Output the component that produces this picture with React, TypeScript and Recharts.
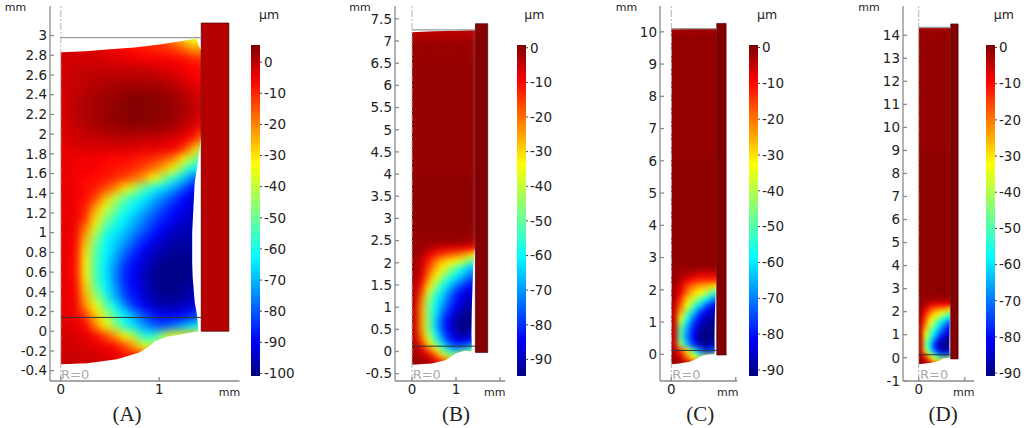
import { ScatterChart, Scatter, XAxis, YAxis, BarChart, Bar } from 'recharts'

type Pt = [number, number]

const JET: [number, number[]][] = [
  [0, [0, 0, 127]],
  [0.11, [0, 0, 255]],
  [0.36, [0, 255, 255]],
  [0.64, [255, 255, 0]],
  [0.89, [255, 0, 0]],
  [1, [127, 0, 0]],
]

// panel A
const aCols = [-0.1, 0.1, 0.2, 0.3, 0.4, 0.5, 0.6, 0.7, 0.8, 0.9, 1, 1.1, 1.2, 1.3, 1.4, 1.5]
const aRows = [3, 2.9, 2.8, 2.7, 2.6, 2.5, 2.4, 2.3, 2.2, 2.1, 2, 1.9, 1.8, 1.7, 1.6, 1.5, 1.4, 1.3, 1.2, 1.1, 1, 0.9, 0.8, 0.7, 0.6, 0.5, 0.4, 0.3, 0.2, 0.1, 0, -0.1, -0.2, -0.3, -0.45]
const aField = [
  [-4, -4, -5, -6, -7, -8, -9, -10, -11, -12, -14, -19, -27, -34, -34],
  [-2, -2, -3, -3, -4, -5, -6, -7, -8, -9, -10, -12, -15, -21, -20],
  [-2, -2, -2, -2, -3, -3, -4, -4, -5, -5, -5, -6, -7, -9, -10],
  [-2, -1, -1, -1, -1, -1, -1, -1, -1, -2, -3, -4, -5, -6, -7],
  [-2, -1, 0, 0, 1, 1, 1, 1, 1, 1, 0, -1, -3, -5, -6],
  [-2, -1, 0, 1, 2, 2, 3, 3, 3, 3, 2, 1, 0, -2, -4],
  [-2, 0, 1, 2, 3, 3, 4, 5, 5, 4, 4, 3, 1, -1, -3],
  [-2, 0, 1, 2, 3, 4, 5, 5, 5, 5, 4, 3, 2, 0, -2],
  [-2, 0, 1, 2, 3, 4, 4, 5, 5, 4, 4, 3, 1, -1, -4],
  [-3, -1, 0, 1, 2, 2, 3, 3, 3, 3, 2, 1, -1, -4, -8],
  [-3, -2, -1, -1, -1, 0, 0, 0, -1, -1, -2, -3, -5, -9, -20],
  [-4, -3, -3, -3, -3, -3, -3, -3, -4, -4, -5, -6, -11, -26, -40],
  [-4, -5, -5, -5, -6, -7, -7, -8, -9, -11, -14, -19, -32, -45, -52],
  [-4, -5, -5, -6, -7, -8, -9, -11, -14, -18, -25, -34, -50, -62, -66],
  [-4, -5, -6, -7, -8, -10, -13, -17, -23, -33, -46, -58, -68, -78, -80],
  [-4, -5, -7, -9, -13, -20, -30, -40, -52, -60, -66, -72, -80, -88, -90],
  [-4, -5, -7, -13, -25, -39, -50, -58, -64, -70, -76, -82, -89, -92, -93],
  [-4, -5, -9, -22, -36, -48, -58, -64, -70, -76, -82, -87, -91, -94, -94],
  [-4, -5, -11, -29, -44, -56, -63, -69, -75, -81, -86, -90, -93, -95, -95],
  [-4, -5, -18, -36, -53, -61, -67, -73, -79, -85, -90, -93, -95, -96, -96],
  [-4, -6, -24, -44, -60, -66, -71, -78, -84, -90, -93, -96, -97, -97, -97],
  [-4, -6, -28, -50, -62, -68, -75, -83, -89, -93, -96, -98, -98, -98, -98],
  [-4, -7, -31, -52, -63, -71, -80, -87, -92, -96, -98, -99, -99, -99, -99],
  [-4, -7, -32, -53, -64, -74, -84, -90, -94, -98, -100, -100, -100, -99, -99],
  [-4, -7, -31, -53, -64, -75, -85, -90, -95, -99, -100, -100, -100, -99, -98],
  [-4, -6, -28, -49, -62, -73, -84, -90, -94, -98, -100, -100, -99, -97, -96],
  [-4, -6, -25, -43, -57, -70, -81, -88, -93, -97, -99, -99, -98, -96, -95],
  [-4, -5, -20, -33, -49, -62, -74, -84, -90, -94, -96, -96, -94, -92, -90],
  [-4, -5, -11, -26, -39, -53, -63, -72, -81, -87, -90, -90, -88, -84, -78],
  [-3, -4, -6, -19, -31, -44, -58, -66, -73, -79, -80, -76, -70, -64, -58],
  [-2, -3, -4, -6, -13, -22, -32, -43, -60, -58, -42, -34, -30, -28, -28],
  [-2, -2, -3, -4, -5, -7, -14, -24, -36, -40, -40, -40, -40, -40, -40],
  [-1, -1, -2, -2, -3, -4, -7, -9, -15, -18, -18, -18, -18, -18, -18],
  [-1, -1, -2, -2, -3, -3, -4, -5, -6, -6, -6, -6, -6, -6, -6],
]
const aOutline: Pt[] = [[0, 2.83], [0.25, 2.84], [0.5, 2.86], [0.75, 2.88], [1, 2.91], [1.2, 2.94], [1.38, 2.97], [1.4, 2.9], [1.427, 2.85], [1.427, 2], [1.41, 1.84], [1.36, 1.5], [1.335, 1], [1.335, 0.7], [1.34, 0.55], [1.36, 0.3], [1.386, 0.15], [1.397, 0], [1.2, -0.035], [1.08, -0.055], [0.96, -0.1], [0.895, -0.155], [0.8, -0.215], [0.57, -0.284], [0.27, -0.325], [0, -0.335]]
const aRing: Pt[] = [[1.427, 0], [1.708, 0], [1.708, 3.127], [1.427, 3.127], [1.427, 0]]
const aTopLine: Pt[] = [[0, 2.98], [1.427, 2.98]]
const aLowLine: Pt[] = [[0, 0.14], [1.427, 0.14]]
const aYTicks = [-0.4, -0.2, 0, 0.2, 0.4, 0.6, 0.8, 1, 1.2, 1.4, 1.6, 1.8, 2, 2.2, 2.4, 2.6, 2.8, 3]
const aXTicks = [0, 1]
const aBarTicks = [0, -10, -20, -30, -40, -50, -60, -70, -80, -90, -100]

// panel B
const bCols = [-0.15, 0.15, 0.3, 0.45, 0.6, 0.75, 0.9, 1.05, 1.2, 1.35, 1.5]
const bRows = [7.35, 7.05, 6.6, 4, 2.7, 2.55, 2.4, 2.25, 2.1, 1.95, 1.8, 1.65, 1.5, 1.35, 1.2, 1.05, 0.9, 0.75, 0.6, 0.45, 0.3, 0.15, 0, -0.15, -0.3, -0.45]
const bField = [
  [-4, -4, -4, -4, -4, -4, -4, -4, -4, -4],
  [-1.5, -1.5, -1.5, -1.5, -1.5, -1.5, -1.5, -1.5, -1.5, -1.5],
  [-1, -1, -1, -1, -1, -1, -1, -1, -1, -1],
  [-0.5, -0.5, -0.5, -0.5, -0.5, -0.5, -0.5, -0.5, -0.5, -0.5],
  [-1, -1, -1, -1, -1, -1, -1, -1, -1, -1],
  [-1, -1, -1, -1, -1, -1, -1, -1, -2, -3],
  [-1, -2, -3, -5, -6, -7, -8, -8, -9, -10],
  [-1, -3, -8, -12, -15, -18, -20, -23, -28, -33],
  [-2, -5, -12, -20, -27, -31, -34, -37, -47, -52],
  [-2, -6, -15, -25, -32, -40, -49, -57, -65, -68],
  [-2, -7, -19, -31, -40, -50, -58, -64, -70, -74],
  [-3, -9, -25, -37, -50, -59, -66, -72, -78, -82],
  [-3, -13, -32, -46, -58, -66, -74, -80, -85, -87],
  [-4, -18, -40, -54, -63, -71, -80, -85, -88, -89],
  [-4, -22, -44, -58, -66, -75, -82, -87, -90, -90],
  [-5, -24, -46, -60, -69, -78, -85, -89, -92, -92],
  [-5, -25, -46, -62, -73, -82, -88, -92, -93, -93],
  [-5, -25, -45, -64, -76, -85, -91, -94, -94, -93],
  [-5, -25, -45, -63, -76, -85, -91, -94, -94, -92],
  [-4, -22, -41, -58, -72, -83, -89, -92, -91, -87],
  [-4, -17, -34, -52, -65, -78, -84, -86, -84, -78],
  [-3, -7, -22, -34, -52, -64, -72, -72, -66, -55],
  [-2, -4, -8, -18, -32, -46, -50, -40, -35, -33],
  [-1, -2, -4, -6, -13, -25, -30, -30, -30, -30],
  [-1, -1, -2, -4, -8, -12, -12, -12, -12, -12],
]
const bOutline: Pt[] = [[0, 7.2], [0.5, 7.22], [1, 7.23], [1.44, 7.25], [1.44, 2.32], [1.42, 2.27], [1.39, 1.9], [1.36, 1], [1.35, 0.4], [1.36, 0.1], [1.35, 0], [1.2, 0.015], [1, -0.04], [0.91, -0.1], [0.76, -0.2], [0.45, -0.27], [0, -0.3]]
const bRing: Pt[] = [[1.44, -0.02], [1.72, -0.02], [1.72, 7.39], [1.44, 7.39], [1.44, -0.02]]
const bTopLine: Pt[] = [[0, 7.25], [1.44, 7.25]]
const bLowLine: Pt[] = [[0, 0.12], [1.44, 0.12]]
const bYTicks = [-0.5, 0, 0.5, 1, 1.5, 2, 2.5, 3, 3.5, 4, 4.5, 5, 5.5, 6, 6.5, 7, 7.5]
const bXTicks = [0, 1, 2]
const bBarTicks = [0, -10, -20, -30, -40, -50, -60, -70, -80, -90]

// panel C
const cCols = [-0.2, 0.2, 0.4, 0.6, 0.8, 1, 1.2, 1.4, 1.6]
const cRows = [10.2, 9.9, 6, 2.8, 2.6, 2.4, 2.2, 2, 1.8, 1.6, 1.4, 1.2, 1, 0.8, 0.6, 0.4, 0.2, 0, -0.2, -0.4]
const cField = [
  [-2, -2, -2, -2, -2, -2, -2, -2],
  [-1, -1, -1, -1, -1, -1, -1, -1],
  [-0.5, -0.5, -0.5, -0.5, -0.5, -0.5, -0.5, -0.5],
  [-1, -1, -1, -1, -1, -1, -1, -1],
  [-1, -2, -3, -4, -6, -6, -6, -6],
  [-1, -4, -8, -11, -13, -13, -13, -14],
  [-2, -7, -15, -21, -24, -26, -29, -34],
  [-2, -9, -20, -28, -33, -40, -50, -58],
  [-3, -14, -28, -38, -48, -58, -68, -72],
  [-4, -19, -34, -50, -62, -74, -82, -84],
  [-5, -25, -45, -62, -76, -83, -87, -88],
  [-5, -35, -56, -72, -82, -87, -89, -89],
  [-5, -44, -64, -78, -87, -90, -90, -90],
  [-5, -50, -68, -81, -89, -91, -91, -91],
  [-5, -50, -69, -82, -90, -92, -91, -90],
  [-5, -42, -64, -78, -87, -90, -88, -84],
  [-3, -14, -30, -52, -70, -78, -74, -64],
  [-2, -6, -20, -33, -46, -33, -33, -33],
  [-1, -2, -6, -10, -16, -20, -20, -20],
]
const cOutline: Pt[] = [[0, 10.08], [1.41, 10.1], [1.41, 2.4], [1.38, 2], [1.35, 1.2], [1.34, 0.5], [1.35, 0.1], [1.34, 0], [1.1, -0.01], [0.93, -0.05], [0.82, -0.12], [0.57, -0.23], [0.2, -0.29], [0, -0.31]]
const cRing: Pt[] = [[1.41, -0.02], [1.7, -0.02], [1.7, 10.26], [1.41, 10.26], [1.41, -0.02]]
const cTopLine: Pt[] = [[0, 10.1], [1.41, 10.1]]
const cLowLine: Pt[] = [[0, 0.12], [1.41, 0.12]]
const cYTicks = [0, 1, 2, 3, 4, 5, 6, 7, 8, 9, 10]
const cXTicks = [0, 2]
const cBarTicks = [0, -10, -20, -30, -40, -50, -60, -70, -80, -90]

// panel D
const dCols = [-0.2, 0.2, 0.4, 0.6, 0.8, 1, 1.2, 1.4, 1.6]
const dRows = [14.4, 14, 9, 2.8, 2.6, 2.4, 2.2, 2, 1.8, 1.6, 1.4, 1.2, 1, 0.8, 0.6, 0.4, 0.2, 0, -0.2, -0.4]
const dField = [
  [-1.5, -1.5, -1.5, -1.5, -1.5, -1.5, -1.5, -1.5],
  [-1, -1, -1, -1, -1, -1, -1, -1],
  [-0.5, -0.5, -0.5, -0.5, -0.5, -0.5, -0.5, -0.5],
  [-1, -1, -1, -1, -1, -1, -1, -1],
  [-1, -1, -1, -2, -2, -2, -2, -2],
  [-1, -3, -6, -8, -9, -9, -9, -10],
  [-2, -7, -14, -19, -22, -24, -27, -29],
  [-2, -11, -22, -28, -33, -38, -45, -50],
  [-3, -15, -28, -35, -45, -53, -60, -62],
  [-4, -18, -33, -45, -55, -64, -72, -74],
  [-5, -24, -40, -50, -62, -72, -78, -79],
  [-5, -30, -46, -58, -68, -77, -83, -84],
  [-5, -35, -50, -64, -76, -83, -87, -87],
  [-5, -40, -56, -72, -84, -88, -90, -89],
  [-5, -42, -60, -78, -85, -90, -90, -88],
  [-5, -36, -55, -72, -82, -87, -86, -80],
  [-3, -16, -36, -52, -66, -72, -70, -58],
  [-2, -5, -20, -32, -40, -33, -33, -33],
  [-1, -2, -6, -10, -15, -18, -18, -18],
]
const dOutline: Pt[] = [[0, 14.34], [1.39, 14.34], [1.39, 2.35], [1.36, 2], [1.34, 1.2], [1.33, 0.5], [1.35, 0], [1.06, -0.03], [0.91, -0.13], [0.55, -0.22], [0, -0.28]]
const dRing: Pt[] = [[1.39, -0.05], [1.71, -0.05], [1.71, 14.49], [1.39, 14.49], [1.39, -0.05]]
const dTopLine: Pt[] = [[0, 14.34], [1.39, 14.34]]
const dLowLine: Pt[] = [[0, 0.13], [1.39, 0.13]]
const dYTicks = [-1, 0, 1, 2, 3, 4, 5, 6, 7, 8, 9, 10, 11, 12, 13, 14]
const dXTicks = [0, 2]
const dBarTicks = [0, -10, -20, -30, -40, -50, -60, -70, -80, -90]

const FONT = '"DejaVu Sans", sans-serif'
const FRAME = '#8a8a8a'

function colorOf(v: number, min: number, max: number) {
  const t = Math.min(1, Math.max(0, (v - min) / (max - min)))
  for (let i = 1; i < JET.length; i++) {
    if (t <= JET[i][0]) {
      const [t0, c0] = JET[i - 1]
      const [t1, c1] = JET[i]
      const f = (t - t0) / (t1 - t0)
      return `rgb(${c0.map((c, k) => Math.round(c + (c1[k] - c) * f)).join(',')})`
    }
  }
  return 'rgb(127,0,0)'
}

function toPoints(pts: Pt[]) {
  return pts.map(([x, y]) => ({ x, y }))
}

function buildCells(cols: number[], rows: number[], field: number[][]) {
  const cells: { x: number; y: number; w: number; h: number; v: number }[] = []
  field.forEach((row, r) => {
    row.forEach((v, c) => {
      cells.push({
        x: (cols[c] + cols[c + 1]) / 2,
        y: (rows[r] + rows[r + 1]) / 2,
        w: cols[c + 1] - cols[c],
        h: rows[r] - rows[r + 1],
        v,
      })
    })
  })
  return cells
}

// outside of the body is painted white, the outline winds against the outer box
function maskPoints(xd: number[], yd: number[], outline: Pt[]) {
  const start = outline[0]
  const pts: Pt[] = [
    [xd[0], start[1]], [xd[0], yd[0]], [xd[1], yd[0]], [xd[1], yd[1]], [xd[0], yd[1]], [xd[0], start[1]],
    ...outline, start,
  ]
  return toPoints(pts)
}

interface PanelProps {
  id: string
  frameLeft: number
  frameRight: number
  xDomain: number[]
  yDomain: number[]
  cols: number[]
  rows: number[]
  field: number[][]
  outline: Pt[]
  ring: Pt[]
  ringValue: number
  topLine: Pt[]
  lowLine: Pt[]
  xTicks: number[]
  yTicks: number[]
  blankX?: number
  vMin: number
  vMax: number
  blur: number
}

const TOP = 6
const BOTTOM = 381
const AXIS_W = 44
const noShape = () => null

function Panel(p: PanelProps) {
  const plotW = p.frameRight - p.frameLeft
  const plotH = BOTTOM - TOP
  const sx = plotW / (p.xDomain[1] - p.xDomain[0])
  const sy = plotH / (p.yDomain[1] - p.yDomain[0])
  const cells = buildCells(p.cols, p.rows, p.field)
  const heatShape = (s: any) => {
    const w = s.payload.w * sx + 0.6
    const h = s.payload.h * sy + 0.6
    return <rect x={s.cx - w / 2} y={s.cy - h / 2} width={w} height={h} fill={colorOf(s.payload.v, p.vMin, p.vMax)} />
  }
  const dash = [{ x: 0, y: p.yDomain[0] }, { x: 0, y: p.yDomain[1] }]
  const width = AXIS_W + plotW + 2
  const layer = { position: 'absolute', left: p.frameLeft - AXIS_W, top: 0 } as const
  return (
    <>
      <style>{`.heat-${p.id}{filter:blur(${p.blur}px)}`}</style>
      <div style={layer}>
        <ScatterChart width={width} height={428} margin={{ top: TOP, right: 2, bottom: 428 - BOTTOM, left: AXIS_W }}>
          <XAxis type="number" dataKey="x" domain={p.xDomain} allowDataOverflow hide />
          <YAxis type="number" dataKey="y" domain={p.yDomain} allowDataOverflow hide />
          <Scatter className={`heat-${p.id}`} data={cells} shape={heatShape} isAnimationActive={false} />
          <Scatter
            data={maskPoints(p.xDomain, p.yDomain, p.outline)}
            shape={noShape}
            line={{ fill: '#fff', stroke: 'none' }}
            isAnimationActive={false}
          />
          <Scatter
            data={toPoints(p.ring)}
            shape={noShape}
            line={{ fill: colorOf(p.ringValue, p.vMin, p.vMax), stroke: '#4a0000', strokeWidth: 0.7 }}
            isAnimationActive={false}
          />
          <Scatter data={dash} shape={noShape} line={{ stroke: '#b5b5b5', strokeWidth: 1, strokeDasharray: '7 2 2 2' }} isAnimationActive={false} />
          <Scatter data={toPoints(p.topLine)} shape={noShape} line={{ stroke: '#9a9a9a', strokeWidth: 1.2 }} isAnimationActive={false} />
          <Scatter data={toPoints(p.lowLine)} shape={noShape} line={{ stroke: '#333', strokeWidth: 1 }} isAnimationActive={false} />
        </ScatterChart>
      </div>
      <div style={layer}>
        <ScatterChart width={width} height={428} margin={{ top: TOP, right: 2, bottom: 428 - BOTTOM - 30, left: 0 }}>
          <XAxis
            type="number"
            dataKey="x"
            domain={p.xDomain}
            ticks={p.xTicks}
            interval={0}
            allowDataOverflow
            height={30}
            tickSize={-4}
            tickMargin={7}
            stroke={FRAME}
            strokeWidth={1.3}
            tick={{ fill: '#222', fontSize: 13.5, fontFamily: FONT }}
            tickFormatter={(v: number) => (v === p.blankX ? '' : String(v))}
          />
          <XAxis
            xAxisId="top"
            orientation="top"
            type="number"
            dataKey="x"
            domain={p.xDomain}
            ticks={p.xTicks}
            interval={0}
            allowDataOverflow
            height={0}
            tickSize={-4}
            stroke={FRAME}
            strokeWidth={1.3}
            tickFormatter={() => ''}
          />
          <YAxis
            type="number"
            dataKey="y"
            domain={p.yDomain}
            ticks={p.yTicks}
            interval={0}
            allowDataOverflow
            width={AXIS_W}
            tickSize={-4}
            tickMargin={7}
            stroke={FRAME}
            strokeWidth={1.3}
            tick={{ fill: '#222', fontSize: 13.5, fontFamily: FONT }}
            tickFormatter={(v: number) => String(v)}
          />
          <YAxis
            yAxisId="right"
            orientation="right"
            type="number"
            dataKey="y"
            domain={p.yDomain}
            ticks={p.yTicks}
            interval={0}
            allowDataOverflow
            width={0}
            tickSize={-4}
            stroke={FRAME}
            strokeWidth={1.3}
            tickFormatter={() => ''}
          />
          <Scatter xAxisId="top" yAxisId="right" data={toPoints(p.topLine)} shape={noShape} isAnimationActive={false} />
        </ScatterChart>
      </div>
    </>
  )
}

function ColorBar({ id, left, min, max, ticks }: { id: string; left: number; min: number; max: number; ticks: number[] }) {
  const data = [{ name: id, span: [min, max] }]
  return (
    <div style={{ position: 'absolute', left, top: 0 }}>
      <BarChart width={48} height={428} data={data} margin={{ top: 45, right: 0, bottom: 52, left: 0 }} barCategoryGap={0}>
        <defs>
          <linearGradient id={`jet-${id}`} x1="0" y1="0" x2="0" y2="1">
            {[...JET].reverse().map(([t, c]) => (
              <stop key={t} offset={1 - t} stopColor={`rgb(${c.join(',')})`} />
            ))}
          </linearGradient>
        </defs>
        <XAxis dataKey="name" hide />
        <YAxis
          orientation="right"
          type="number"
          domain={[min, max]}
          ticks={ticks}
          interval={0}
          allowDataOverflow
          width={39}
          axisLine={false}
          tickSize={2}
          tickMargin={2}
          stroke="#444"
          tick={{ fill: '#222', fontSize: 13.5, fontFamily: FONT }}
        />
        <Bar dataKey="span" fill={`url(#jet-${id})`} isAnimationActive={false} />
      </BarChart>
    </div>
  )
}

function Label({ x, cy, size, color, family, center, children }: any) {
  return (
    <div
      style={{
        position: 'absolute',
        left: x,
        top: cy - 15,
        height: 30,
        lineHeight: '30px',
        fontSize: size,
        color: color ?? '#222',
        fontFamily: family ?? FONT,
        whiteSpace: 'nowrap',
        transform: center ? 'translateX(-50%)' : undefined,
      }}
    >
      {children}
    </div>
  )
}

export default function App() {
  return (
    <div style={{ position: 'absolute', left: 0, top: 0, width: 1024, height: 428, overflow: 'hidden', background: '#fff' }}>
      <Panel id="a" frameLeft={49.5} frameRight={239} xDomain={[-0.11, 1.816]} yDomain={[-0.505, 3.3]} cols={aCols} rows={aRows} field={aField} outline={aOutline} ring={aRing} ringValue={0.5} topLine={aTopLine} lowLine={aLowLine} xTicks={aXTicks} yTicks={aYTicks} vMin={-100.8} vMax={5.5} blur={4} />
      <Panel id="b" frameLeft={394.7} frameRight={505} xDomain={[-0.386, 2.12]} yDomain={[-0.665, 7.79]} cols={bCols} rows={bRows} field={bField} outline={bOutline} ring={bRing} ringValue={0.3} topLine={bTopLine} lowLine={bLowLine} xTicks={bXTicks} yTicks={bYTicks} blankX={2} vMin={-94.8} vMax={0.8} blur={3} />
      <Panel id="c" frameLeft={660.3} frameRight={737.7} xDomain={[-0.35, 2.05]} yDomain={[-0.827, 10.8]} cols={cCols} rows={cRows} field={cField} outline={cOutline} ring={cRing} ringValue={0.3} topLine={cTopLine} lowLine={cLowLine} xTicks={cXTicks} yTicks={cYTicks} blankX={2} vMin={-91.7} vMax={0.7} blur={2.6} />
      <Panel id="d" frameLeft={903.3} frameRight={974.3} xDomain={[-0.68, 2.4]} yDomain={[-1.01, 15.27]} cols={dCols} rows={dRows} field={dField} outline={dOutline} ring={dRing} ringValue={0.3} topLine={dTopLine} lowLine={dLowLine} xTicks={dXTicks} yTicks={dYTicks} blankX={2} vMin={-90.8} vMax={0.7} blur={1.9} />

      <ColorBar id="a" left={251} min={-100.8} max={5.5} ticks={aBarTicks} />
      <ColorBar id="b" left={516.5} min={-94.8} max={0.8} ticks={bBarTicks} />
      <ColorBar id="c" left={749} min={-91.7} max={0.7} ticks={cBarTicks} />
      <ColorBar id="d" left={986} min={-90.8} max={0.7} ticks={dBarTicks} />

      <Label x={4.7} cy={8} size={11}>mm</Label>
      <Label x={349.3} cy={8} size={11}>mm</Label>
      <Label x={615.7} cy={8} size={11}>mm</Label>
      <Label x={858.3} cy={8} size={11}>mm</Label>

      <Label x={218.7} cy={393} size={11}>mm</Label>
      <Label x={484} cy={393} size={11}>mm</Label>
      <Label x={717} cy={393} size={11}>mm</Label>
      <Label x={953} cy={393} size={11}>mm</Label>

      <Label x={259} cy={15} size={12.5}>µm</Label>
      <Label x={524.3} cy={15} size={12.5}>µm</Label>
      <Label x={757} cy={15} size={12.5}>µm</Label>
      <Label x={993.7} cy={15} size={12.5}>µm</Label>

      <Label x={61} cy={375} size={13} color="#aaa">R=0</Label>
      <Label x={412.7} cy={375} size={13} color="#aaa">R=0</Label>
      <Label x={672.3} cy={375} size={13} color="#aaa">R=0</Label>
      <Label x={920} cy={375} size={13} color="#aaa">R=0</Label>

      <Label x={127} cy={414} size={21} center family='"Liberation Serif", serif'>(A)</Label>
      <Label x={456} cy={414} size={21} center family='"Liberation Serif", serif'>(B)</Label>
      <Label x={700.3} cy={414} size={21} center family='"Liberation Serif", serif'>(C)</Label>
      <Label x={943.2} cy={414} size={21} center family='"Liberation Serif", serif'>(D)</Label>
    </div>
  )
}
